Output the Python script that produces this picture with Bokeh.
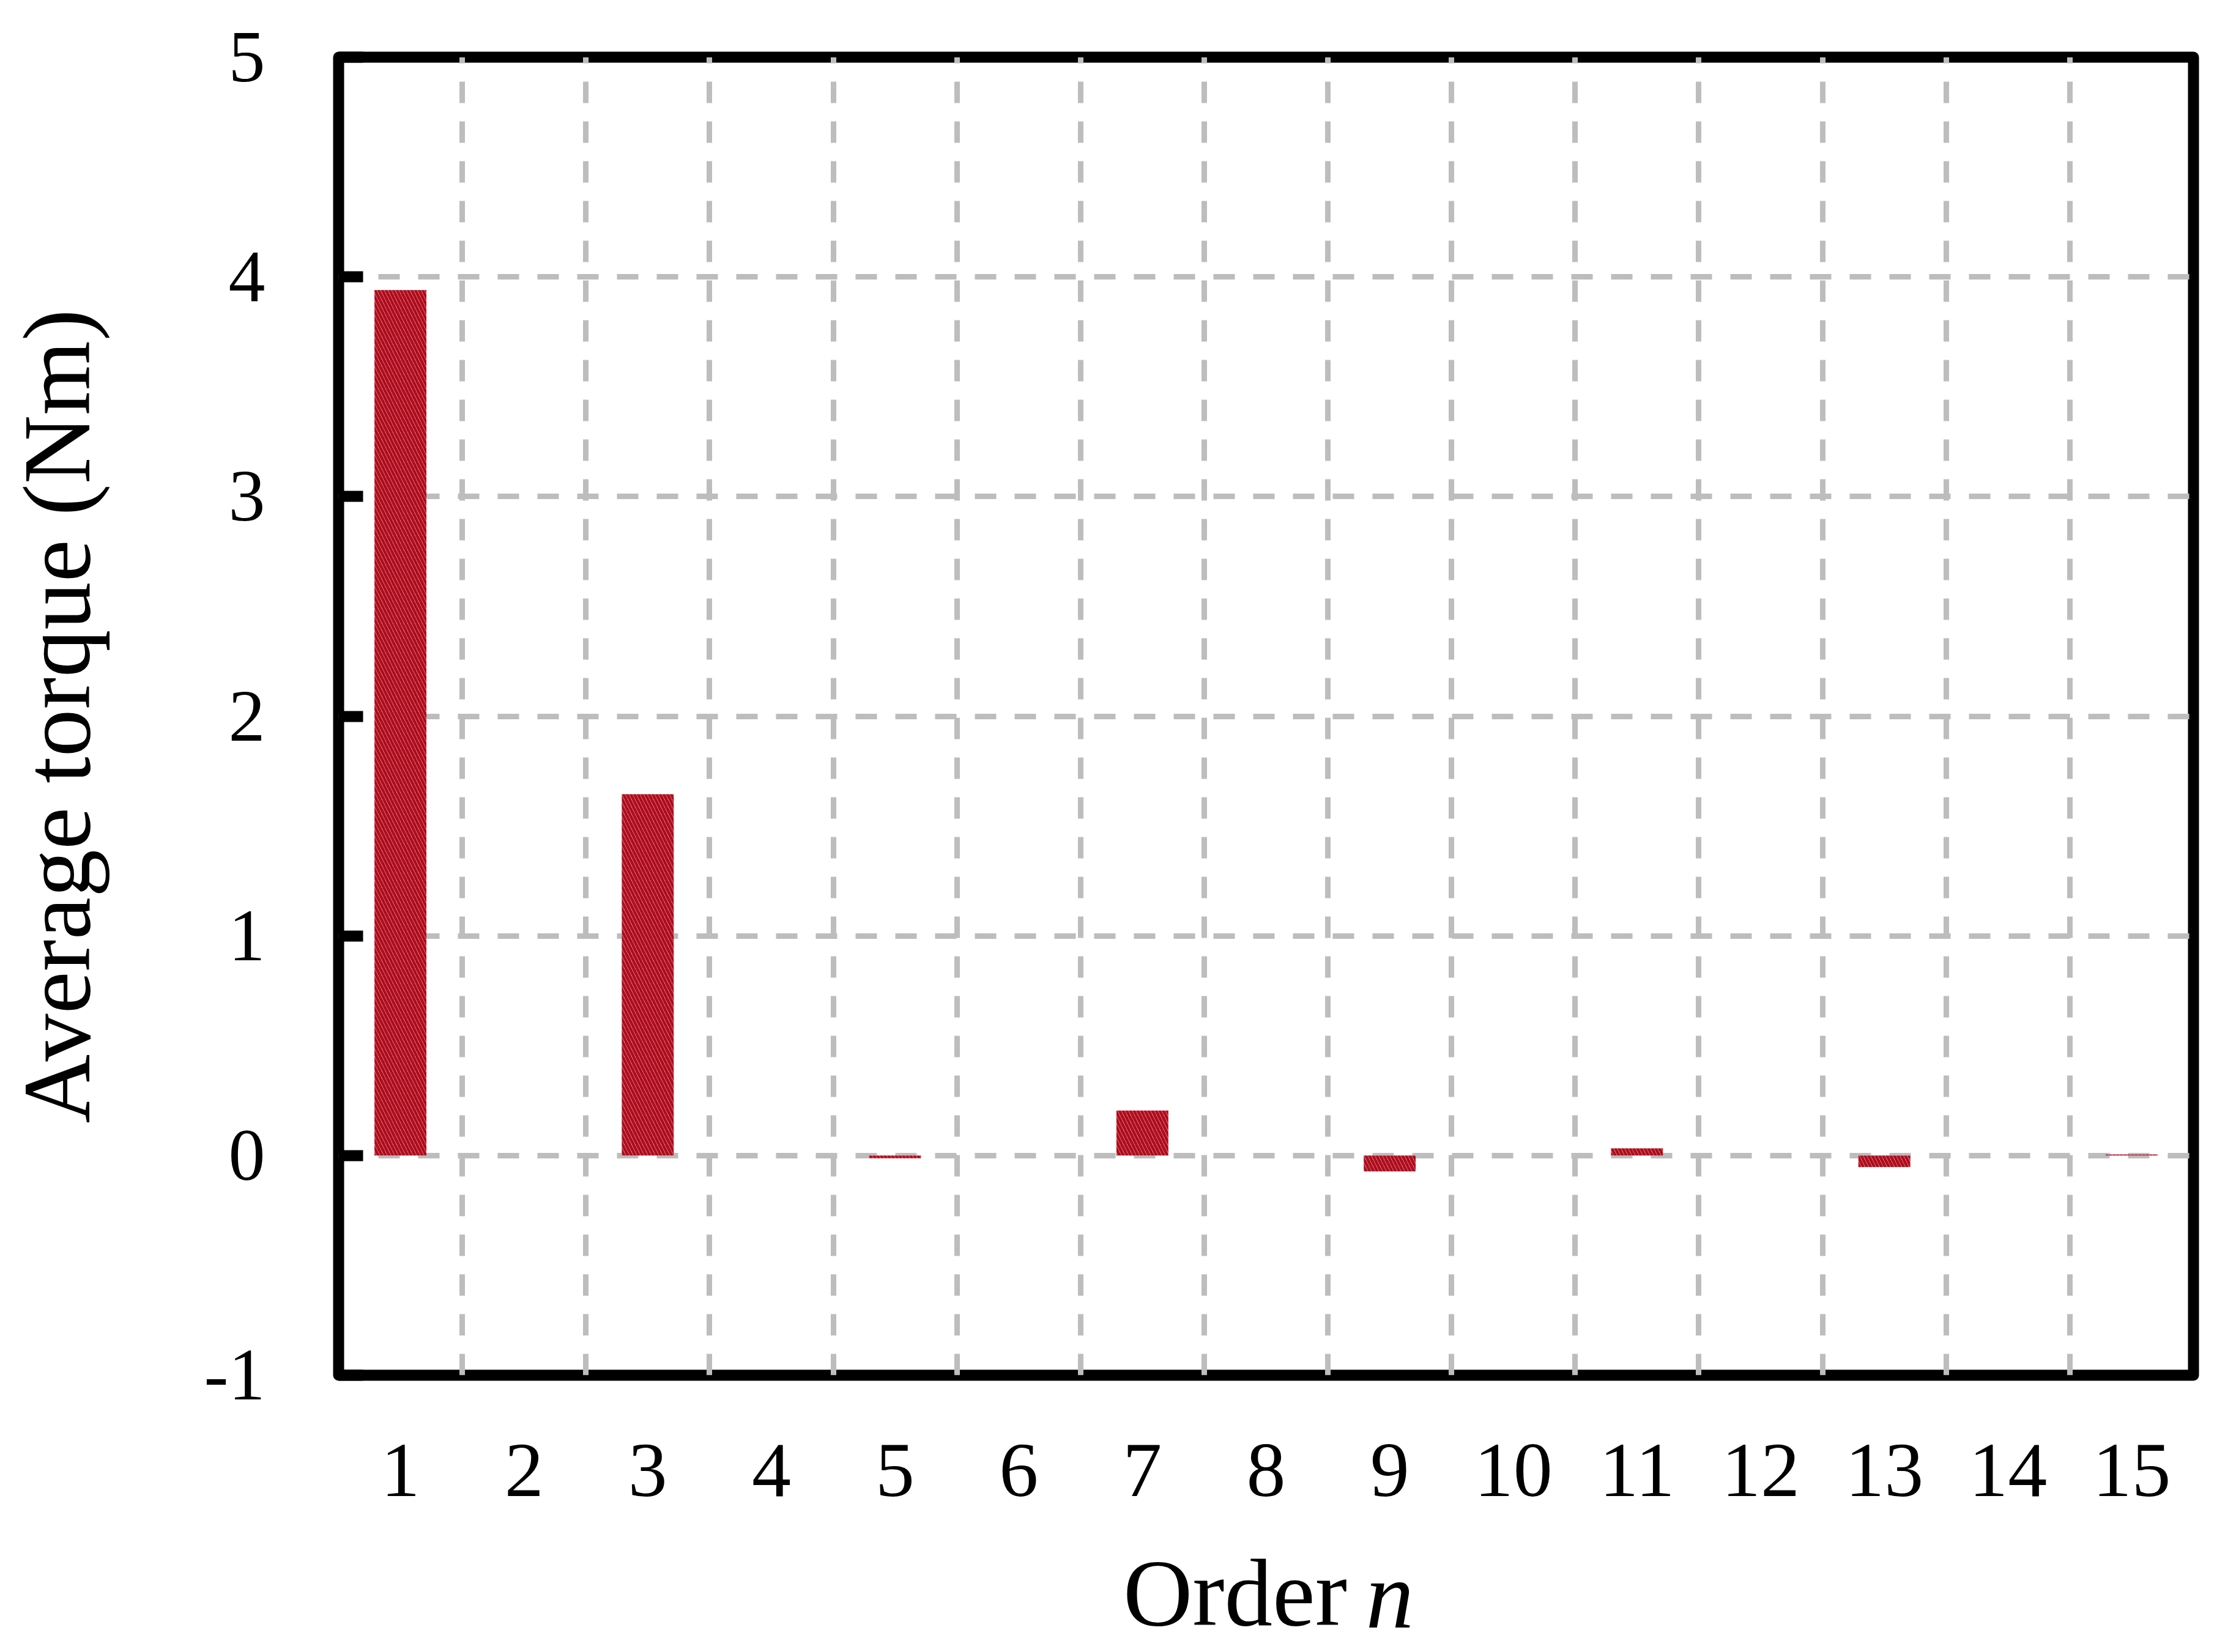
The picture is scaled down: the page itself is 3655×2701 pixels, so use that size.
from bokeh.plotting import figure
from bokeh.models import Range1d, FixedTicker, LinearAxis
from bokeh.embed import file_html
from bokeh.resources import INLINE

# ---- data ----
orders = [1, 2, 3, 4, 5, 6, 7, 8, 9, 10, 11, 12, 13, 14, 15]
torque = [3.94, 0.0, 1.645, 0.0, -0.012, 0.0, 0.205, 0.0, -0.072, 0.0, 0.033, 0.0, -0.053, 0.0, 0.005]
y_ticks = [-1, 0, 1, 2, 3, 4, 5]
y_tick_labels = {-1: "-1", 0: "0", 1: "1", 2: "2", 3: "3", 4: "4", 5: "5"}
x_grid = [1.5, 2.5, 3.5, 4.5, 5.5, 6.5, 7.5, 8.5, 9.5, 10.5, 11.5, 12.5, 13.5, 14.5]
y_grid = [0, 1, 2, 3, 4]
y_label = "Average torque (Nm)"
x_label_a = "Order"
x_label_b = "n"
x_label_a_pos = 7.75
x_label_b_pos = 9.0

FONT = "Liberation Serif"

p = figure(
    frame_width=3032, frame_height=2155,
    min_border_left=553, min_border_right=66, min_border_top=93, min_border_bottom=449,
    x_range=Range1d(0.5, 15.5), y_range=Range1d(-1, 5),
    output_backend="svg", toolbar_location=None,
    background_fill_color="white", border_fill_color="white",
)

# frame
p.outline_line_color = "black"
p.outline_line_width = 18
p.outline_line_join = "round"

# grids
p.xgrid.ticker = FixedTicker(ticks=x_grid)
p.ygrid.ticker = FixedTicker(ticks=y_grid)
for g in (p.xgrid, p.ygrid):
    g.grid_line_color = "#bdbdbd"
    g.grid_line_width = 9
    g.grid_line_dash = "35 30"

def plain_axis(ax):
    ax.axis_line_color = None
    ax.major_tick_line_color = None
    ax.minor_tick_line_color = None
    ax.major_tick_in = 0
    ax.major_tick_out = 0
    ax.major_label_text_font = FONT
    ax.major_label_text_color = "black"

# x axis (orders)
xa = p.xaxis[0]
xa.ticker = FixedTicker(ticks=orders)
plain_axis(xa)
xa.major_label_standoff = 113
xa.major_label_text_font_size = "128px"

# x axis title "Order n" (normal + italic), built from two label-only axes
xa2 = LinearAxis(ticker=FixedTicker(ticks=[x_label_a_pos]),
                 major_label_overrides={x_label_a_pos: x_label_a})
plain_axis(xa2)
xa2.major_label_standoff = 68
xa2.major_label_text_font_size = "157px"
p.add_layout(xa2, "below")

xa3 = LinearAxis(ticker=FixedTicker(ticks=[x_label_b_pos]),
                 major_label_overrides={x_label_b_pos: x_label_b})
plain_axis(xa3)
xa3.major_label_standoff = -173
xa3.major_label_text_font_size = "157px"
xa3.major_label_text_font_style = "italic"
p.add_layout(xa3, "below")

# y axis
ya = p.yaxis[0]
ya.ticker = FixedTicker(ticks=y_ticks)
ya.major_label_overrides = y_tick_labels
ya.axis_line_color = None
ya.major_tick_line_color = "black"
ya.major_tick_line_width = 18
ya.major_tick_in = 40
ya.major_tick_out = 0
ya.minor_tick_line_color = None
ya.major_label_standoff = 120
ya.major_label_text_font = FONT
ya.major_label_text_font_size = "120px"
ya.major_label_text_color = "black"
ya.axis_label = y_label
ya.axis_label_text_font = FONT
ya.axis_label_text_font_size = "156px"
ya.axis_label_text_font_style = "normal"
ya.axis_label_text_color = "black"
ya.axis_label_standoff = 151

# bars
p.vbar(x=orders, top=torque, bottom=0, width=0.42,
       fill_color="white", line_color=None,
       hatch_pattern="\\", hatch_color="#b00c1c", hatch_weight=5, hatch_scale=12)

open("out.html", "w").write(file_html(p, INLINE))
